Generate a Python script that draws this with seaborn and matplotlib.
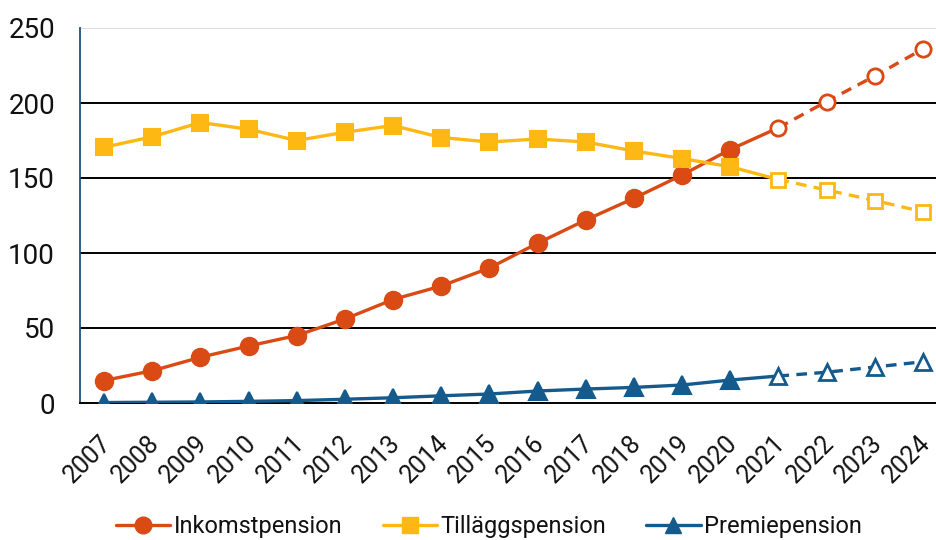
import matplotlib
matplotlib.use("Agg")
import matplotlib.pyplot as plt
import matplotlib.transforms as mtransforms
from matplotlib.lines import Line2D
import seaborn as sns
import pandas as pd

years = list(range(2007, 2025))
inkomstpension = [15, 21.5, 30.5, 38, 45, 56, 69, 78, 90, 106.5, 122, 136.5, 152, 169, 183.5, 201, 218, 236]
tillaggspension = [170.5, 177.5, 187, 182.5, 175, 180.5, 185, 177, 174, 176, 174, 168, 163, 157.5, 149, 142, 135, 127.5]
premiepension = [0.3, 0.5, 0.7, 1.1, 1.6, 2.5, 3.5, 4.8, 6, 8, 9.3, 10.4, 12, 15.3, 18, 20.5, 24, 27.5]
series_names = ["Inkomstpension", "Tilläggspension", "Premiepension"]
last_outcome_year = 2020  # later years are projections

colors = ["#D94A14", "#FDB813", "#145A8C"]
markers = ["o", "s", "^"]
values = [inkomstpension, tillaggspension, premiepension]

sns.set_theme(style="white")
plt.rcParams["font.family"] = ["Roboto", "DejaVu Sans"]

fig = plt.figure(figsize=(9.36, 5.4), dpi=100)
ax = fig.add_axes([80 / 936, 1 - 403 / 540, 867 / 936, 375 / 540])

n_hist = years.index(last_outcome_year) + 1
for name, vals, c, m in zip(series_names, values, colors, markers):
    df = pd.DataFrame({"year": years, "value": vals})
    hist = df.iloc[: n_hist + 1]
    proj = df.iloc[n_hist:]
    sns.lineplot(data=hist, x="year", y="value", ax=ax, color=c, lw=2.4,
                 marker=m, markersize=12.5 if m != "s" else 11.5, markeredgewidth=1.5,
                 markerfacecolor=c, markeredgecolor=c,
                 markevery=list(range(n_hist)), zorder=3)
    sns.lineplot(data=proj, x="year", y="value", ax=ax, color=c, lw=2.4,
                 linestyle=(0, (3.2, 2.2)), marker=m,
                 markersize=11 if m != "s" else 10.5, markeredgewidth=2,
                 markerfacecolor="white", markeredgecolor=c, zorder=3)

ax.set_xlim(2006.5, 2024.5)
ax.set_ylim(0, 250)
ax.set_yticks([0, 50, 100, 150, 200, 250])
ax.set_xticks(years)
ax.set_xticklabels([str(y) for y in years], rotation=45, ha="right",
                   rotation_mode="anchor", fontsize=18, color="#111111")
ax.tick_params(axis="y", labelsize=20, length=0, pad=18, labelcolor="#111111")
ax.tick_params(axis="x", length=0, pad=20)
shift = mtransforms.ScaledTranslation(-5 / 100, 0, fig.dpi_scale_trans)
for lab in ax.get_xticklabels():
    lab.set_transform(lab.get_transform() + shift)
ax.set_xlabel("")
ax.set_ylabel("")

for yv in [50, 100, 150, 200]:
    ax.axhline(yv, color="black", lw=1.4, zorder=1)
ax.axhline(250, color="#d9d9d9", lw=1.2, zorder=1)

for s in ["top", "right"]:
    ax.spines[s].set_visible(False)
ax.spines["left"].set_color("#1F4E79")
ax.spines["left"].set_linewidth(1.3)
ax.spines["bottom"].set_color("black")
ax.spines["bottom"].set_linewidth(1.4)

handles = [Line2D([], [], color=c, lw=2.4, marker=m, markersize=12,
                  markerfacecolor=c, markeredgecolor=c)
           for c, m in zip(colors, markers)]
fig.legend(handles, series_names, loc="center", bbox_to_anchor=(489 / 936, 1 - 527 / 540),
           ncol=3, frameon=False, fontsize=17, handlelength=2.3, handletextpad=0.15,
           columnspacing=1.7, labelcolor="#111111")

fig.savefig("out.png", dpi=100)
